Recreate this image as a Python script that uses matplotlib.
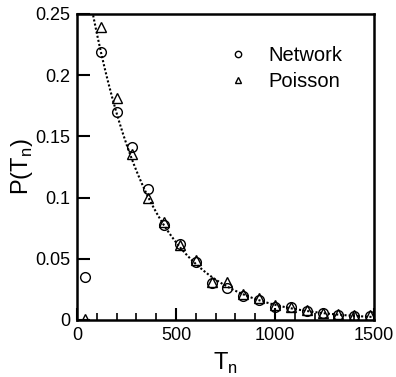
import matplotlib.pyplot as plt
import numpy as np

plt.rcParams['font.family'] = ['Liberation Sans', 'DejaVu Sans']

# bin centres of the waiting time T_n
t_n = [40, 120, 200, 280, 360, 440, 520, 600, 680, 760, 840, 920, 1000,
       1080, 1160, 1240, 1320, 1400, 1480]
# measured distribution on the network
p_network = [0.035, 0.219, 0.170, 0.141, 0.107, 0.078, 0.062, 0.047, 0.030,
             0.026, 0.020, 0.016, 0.011, 0.011, 0.007, 0.0055, 0.004, 0.003, 0.0035]
# Poisson reference
p_poisson = [0.001, 0.239, 0.181, 0.136, 0.100, 0.080, 0.061, 0.049, 0.031,
             0.031, 0.021, 0.018, 0.012, 0.011, 0.008, 0.006, 0.005, 0.004, 0.004]

x = np.array(t_n)
y = np.array(p_network)

# exponential fit on the network data (first bin left out)
b, log_a = np.polyfit(x[1:], np.log(y[1:]), 1)
x_fit = np.linspace(0, 1500, 400)
y_fit = np.exp(log_a) * np.exp(b * x_fit)

fig = plt.figure(figsize=(3.96, 3.77), dpi=100)
ax = fig.add_axes([0.1944, 0.1512, 0.75, 0.8117])

ax.plot(x_fit, y_fit, linestyle=(0, (1, 1)), c='black', linewidth=1.5)
ax.plot(t_n, p_network, 'o', markersize=7, markerfacecolor='none',
        markeredgecolor='black', markeredgewidth=1.0, label='Network')
ax.plot(t_n, p_poisson, '^', markersize=7, markerfacecolor='none',
        markeredgecolor='black', markeredgewidth=1.0, label='Poisson')

ax.set_xlim(0, 1500)
ax.set_ylim(0, 0.25)
ax.set_xticks([0, 500, 1000, 1500])
ax.set_xticks(np.arange(0, 1501, 100), minor=True)
ax.set_yticks([0, 0.05, 0.1, 0.15, 0.2, 0.25])
ax.set_yticklabels(['0', '0.05', '0.1', '0.15', '0.2', '0.25'])
ax.tick_params(which='major', direction='in', length=9, width=1.5, labelsize=13, pad=5)
ax.tick_params(which='minor', direction='in', length=5, width=1.2)
for spine in ax.spines.values():
    spine.set_linewidth(1.8)

ax.set_xlabel(r'T$_\mathregular{n}$', fontsize=17, labelpad=5)
ax.set_ylabel(r'P(T$_\mathregular{n}$)', fontsize=17, labelpad=0)

leg = ax.legend(loc='upper right', bbox_to_anchor=(0.955, 0.955), frameon=False,
                fontsize=14.5, markerscale=0.65, handlelength=1.0, handletextpad=1.0,
                labelspacing=0.35)

fig.savefig('out.png', dpi=100)
